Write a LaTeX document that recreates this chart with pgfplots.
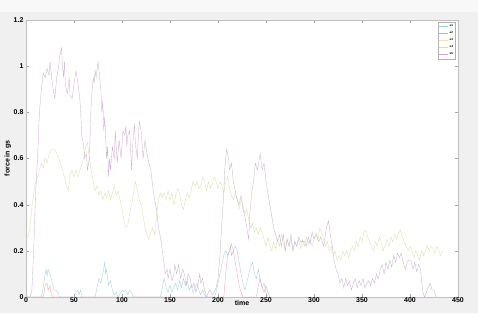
\documentclass[border=0pt]{standalone}
\usepackage{pgfplots}
\pgfplotsset{compat=1.18}
\usepackage{fontspec}
\setmainfont{Liberation Sans}
\definecolor{figbg}{RGB}{240,240,240}
\definecolor{topbg}{RGB}{248,248,248}
\definecolor{mauve}{RGB}{200,172,206}
\definecolor{ygreen}{RGB}{218,222,168}
\definecolor{cyanl}{RGB}{150,205,218}
\definecolor{redl}{RGB}{238,158,168}
\definecolor{orangel}{RGB}{242,226,172}
\begin{document}
\begin{tikzpicture}
\useasboundingbox (0pt,0pt) rectangle (478pt,313pt);
\fill[figbg] (0pt,0pt) rectangle (478pt,313pt);
\fill[topbg] (0pt,301pt) rectangle (478pt,313pt);
\begin{axis}[
  at={(26pt,16pt)}, anchor=origin,
  scale only axis, width=432pt, height=277pt,
  xmin=0, xmax=450, ymin=0, ymax=1.2,
  xtick={0,50,...,450}, ytick={0,0.2,...,1.2},
  axis background/.style={fill=white},
  axis line style={black!25},
  tick style={black!35},
  tick align=inside, major tick length=3pt,
  every tick label/.append style={font=\bfseries\fontsize{7}{8}\selectfont},
  /pgf/number format/assume math mode=true,
  xticklabel style={yshift=3pt},
  yticklabel style={xshift=1pt},
  yticklabel style={/pgf/number format/fixed},
  xlabel={time}, ylabel={force in gs},
  label style={font=\bfseries\fontsize{7}{8}\selectfont},
  xlabel style={at={(axis description cs:0.5,0)}, anchor=center, yshift=-6pt},
  ylabel style={at={(axis description cs:-0.042,0.5)}, anchor=center},
  legend style={at={(0.995,0.993)}, anchor=north east, draw=black!30,
    font=\bfseries\fontsize{3}{3.5}\selectfont, inner sep=0.6pt, row sep=-0.6pt,
    legend cell align=left},
  legend image code/.code={\draw[#1] (0pt,0pt) -- (9pt,0pt);},
  every axis plot/.append style={line width=0.3pt},
]
\addplot[cyanl] coordinates {(0,0)(16,0)(18,0.04)(20,0.1)(21,0.12)(22,0.09)(23,0.12)(25,0.1)(27,0.07)(29,0.03)(31,0.03)(33,0.02)(35,0)(50,0)(52,0.02)(54,0.03)(55,0.01)(57,0.03)(58,0)(72,0)(74,0.04)(76,0.08)(78,0.06)(80,0.1)(82,0.15)(83,0.1)(84,0.12)(86,0.05)(88,0.07)(90,0.03)(92,0.01)(94,0.02)(96,0)(100,0.03)(102,0.02)(104,0.03)(106,0.01)(108,0.03)(110,0.02)(112,0)(140,0)(142,0.04)(144,0.08)(146,0.04)(148,0.02)(150,0.05)(152,0.02)(154,0.04)(156,0.06)(158,0.03)(160,0.07)(162,0.04)(164,0.08)(166,0.05)(168,0.07)(170,0.03)(172,0.05)(174,0.02)(176,0.04)(178,0.06)(180,0.03)(182,0.01)(184,0.03)(186,0.01)(188,0)(196,0)(198,0.02)(200,0.06)(202,0.1)(204,0.14)(206,0.18)(208,0.2)(210,0.18)(212,0.2)(214,0.23)(216,0.2)(218,0.22)(220,0.2)(222,0.15)(224,0.1)(226,0.06)(228,0.03)(230,0.06)(232,0.1)(234,0.13)(236,0.15)(238,0.1)(240,0.08)(242,0.12)(244,0.07)(246,0.04)(248,0.06)(250,0.02)(252,0)};
\addlegendentry{a1}
\addplot[redl] coordinates {(0,0)(18,0)(20,0.05)(22,0.06)(23,0.03)(25,0.05)(26,0.02)(28,0)(206,0)(208,0.1)(210,0.18)(212,0.2)(213,0.22)(214,0.18)(216,0.2)(218,0.15)(220,0.1)(222,0.05)(224,0.02)(226,0)(240,0)(242,0.05)(244,0.08)(246,0.04)(248,0.02)(250,0.05)(252,0.02)(254,0)};
\addlegendentry{a2}
\addlegendimage{orangel}
\addlegendentry{a3}
\addplot[ygreen] coordinates {(0,0.25)(2,0.26)(4,0.3)(6,0.38)(8,0.45)(10,0.5)(12,0.52)(14,0.55)(16,0.58)(18,0.56)(20,0.6)(22,0.58)(24,0.62)(26,0.64)(28,0.64)(30,0.64)(32,0.62)(34,0.6)(36,0.58)(38,0.55)(40,0.52)(42,0.48)(44,0.46)(46,0.53)(48,0.55)(50,0.52)(52,0.55)(54,0.52)(56,0.55)(58,0.57)(60,0.6)(62,0.65)(64,0.67)(66,0.6)(68,0.55)(70,0.5)(72,0.46)(74,0.48)(76,0.44)(78,0.46)(80,0.42)(82,0.45)(84,0.43)(86,0.46)(88,0.42)(90,0.45)(92,0.48)(94,0.44)(96,0.46)(98,0.42)(100,0.38)(102,0.33)(104,0.3)(106,0.31)(108,0.36)(110,0.4)(112,0.45)(114,0.5)(116,0.46)(118,0.42)(120,0.4)(122,0.35)(124,0.3)(126,0.27)(128,0.25)(130,0.28)(132,0.3)(134,0.27)(136,0.35)(138,0.42)(140,0.45)(142,0.43)(144,0.45)(146,0.42)(148,0.46)(150,0.42)(152,0.45)(154,0.4)(156,0.44)(158,0.47)(160,0.45)(162,0.4)(164,0.38)(166,0.42)(168,0.45)(170,0.43)(172,0.46)(174,0.5)(176,0.48)(178,0.5)(180,0.47)(182,0.48)(184,0.52)(186,0.5)(188,0.46)(190,0.5)(192,0.47)(194,0.49)(196,0.52)(198,0.5)(200,0.47)(202,0.5)(204,0.48)(206,0.45)(208,0.5)(210,0.52)(212,0.47)(214,0.44)(216,0.42)(218,0.45)(220,0.42)(222,0.38)(224,0.42)(226,0.4)(228,0.36)(230,0.38)(232,0.33)(234,0.3)(236,0.32)(238,0.28)(240,0.3)(242,0.27)(244,0.3)(246,0.28)(248,0.25)(250,0.22)(252,0.26)(254,0.22)(256,0.2)(258,0.24)(260,0.21)(262,0.25)(264,0.22)(266,0.27)(268,0.24)(270,0.2)(272,0.25)(274,0.22)(276,0.25)(278,0.2)(280,0.24)(282,0.22)(284,0.25)(286,0.21)(288,0.25)(290,0.22)(292,0.26)(294,0.23)(296,0.25)(298,0.22)(300,0.25)(302,0.28)(304,0.25)(306,0.3)(308,0.28)(310,0.25)(312,0.22)(314,0.24)(316,0.2)(318,0.22)(320,0.18)(322,0.2)(324,0.16)(326,0.18)(328,0.16)(330,0.2)(332,0.18)(334,0.2)(336,0.17)(338,0.2)(340,0.22)(342,0.2)(344,0.24)(346,0.22)(348,0.26)(350,0.24)(352,0.28)(354,0.29)(356,0.26)(358,0.24)(360,0.22)(362,0.2)(364,0.24)(366,0.22)(368,0.26)(370,0.24)(372,0.2)(374,0.22)(376,0.25)(378,0.22)(380,0.26)(382,0.24)(384,0.27)(386,0.25)(388,0.28)(390,0.29)(392,0.26)(394,0.24)(396,0.22)(398,0.2)(400,0.22)(402,0.2)(404,0.17)(406,0.2)(408,0.18)(410,0.16)(412,0.2)(414,0.18)(416,0.2)(418,0.22)(420,0.2)(422,0.22)(424,0.21)(426,0.19)(428,0.22)(430,0.2)(432,0.18)(434,0.2)};
\addlegendentry{a4}
\addplot[mauve] coordinates {(0,0)(4,0)(6,0.02)(8,0.2)(10,0.45)(12,0.6)(14,0.8)(16,0.9)(18,0.97)(20,0.95)(22,0.99)(24,0.96)(25,1.02)(27,0.94)(29,0.88)(30,0.86)(32,0.95)(34,1.0)(35,1.04)(37,1.08)(38,1.0)(39,0.95)(40,1.02)(41,0.92)(43,0.88)(45,0.95)(46,0.87)(48,0.86)(50,0.92)(52,0.98)(54,0.93)(56,0.86)(57,0.8)(58,0.7)(60,0.66)(61,0.6)(63,0.62)(64,0.55)(66,0.6)(68,0.85)(70,0.95)(71,0.93)(72,0.98)(73,0.95)(75,1.02)(76,0.98)(78,0.9)(79,0.8)(80,0.85)(81,0.72)(82,0.78)(84,0.6)(85,0.65)(86,0.52)(87,0.6)(88,0.55)(90,0.65)(92,0.6)(93,0.72)(95,0.58)(97,0.68)(99,0.6)(101,0.72)(103,0.7)(104,0.74)(105,0.65)(106,0.7)(108,0.72)(110,0.55)(111,0.65)(113,0.75)(114,0.66)(116,0.6)(117,0.7)(118,0.76)(120,0.72)(122,0.6)(124,0.68)(126,0.62)(128,0.58)(130,0.55)(132,0.48)(134,0.42)(136,0.38)(138,0.3)(140,0.26)(142,0.2)(144,0.14)(145,0.1)(147,0.12)(148,0.08)(150,0.12)(152,0.07)(154,0.1)(155,0.14)(157,0.1)(159,0.14)(161,0.08)(163,0.12)(165,0.1)(167,0.05)(169,0.1)(171,0.08)(173,0.04)(175,0.06)(177,0.02)(179,0.05)(181,0.1)(182,0.06)(184,0.08)(186,0.03)(188,0)(190,0.02)(192,0.03)(194,0.01)(196,0.02)(198,0.04)(200,0.08)(202,0.18)(204,0.32)(206,0.45)(207,0.55)(208,0.6)(209,0.64)(211,0.6)(212,0.55)(214,0.58)(216,0.5)(218,0.46)(220,0.42)(222,0.4)(224,0.44)(226,0.38)(228,0.35)(230,0.3)(232,0.25)(233,0.35)(235,0.45)(237,0.5)(239,0.58)(241,0.55)(243,0.6)(244,0.62)(246,0.55)(248,0.58)(250,0.5)(252,0.45)(254,0.4)(256,0.35)(258,0.3)(260,0.27)(262,0.24)(264,0.27)(266,0.22)(268,0.27)(270,0.2)(272,0.25)(274,0.22)(276,0.27)(278,0.2)(280,0.24)(282,0.22)(284,0.26)(286,0.24)(290,0.24)(292,0.22)(294,0.26)(296,0.23)(298,0.28)(300,0.25)(302,0.27)(305,0.24)(307,0.26)(310,0.22)(313,0.3)(315,0.33)(317,0.27)(319,0.22)(321,0.16)(323,0.12)(325,0.1)(327,0.06)(329,0.08)(331,0.04)(333,0.08)(335,0.05)(337,0.07)(339,0.03)(341,0.06)(343,0.08)(345,0.04)(347,0.07)(349,0.05)(351,0.08)(353,0.04)(355,0.06)(357,0.07)(359,0.05)(361,0.08)(363,0.06)(365,0.1)(367,0.08)(369,0.12)(371,0.14)(373,0.1)(375,0.15)(377,0.12)(379,0.16)(381,0.13)(383,0.18)(385,0.15)(387,0.19)(389,0.17)(391,0.19)(393,0.15)(395,0.12)(397,0.15)(399,0.16)(401,0.16)(403,0.12)(405,0.15)(407,0.11)(409,0.14)(411,0.12)(413,0.03)(415,0)(417,0.02)(419,0.04)(421,0.06)(423,0.03)(425,0.03)(427,0)};
\addlegendentry{a5}
\end{axis}
\end{tikzpicture}
\end{document}
